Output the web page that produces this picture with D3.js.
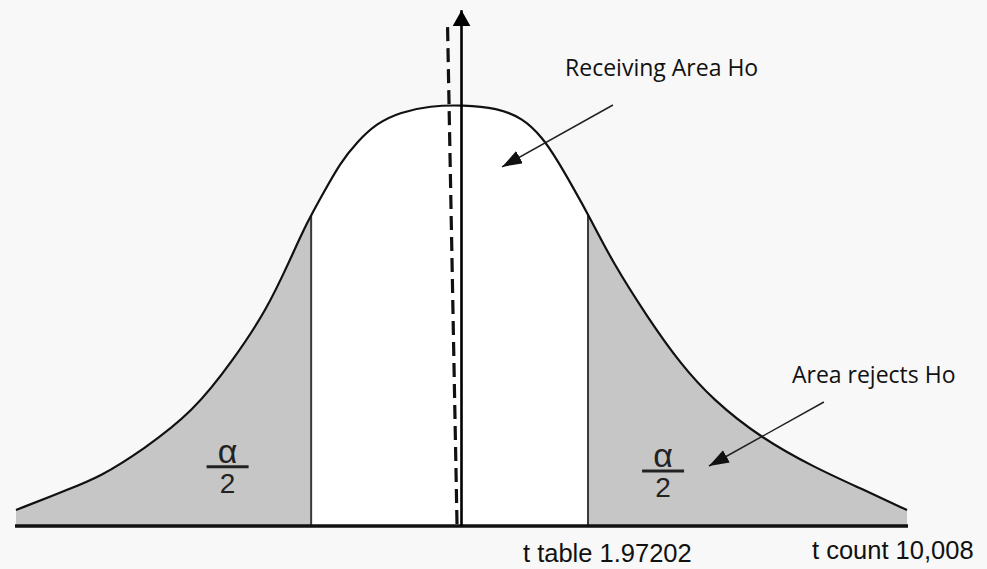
<!DOCTYPE html>
<html lang="en">
<head>
    <meta charset="UTF-8">
    <title>t test acceptance / rejection areas</title>
    <script src="https://cdn.jsdelivr.net/npm/d3@7"></script>
    <style>
        html, body { margin: 0; padding: 0; background: #f8f8f8; }
        svg { display: block; }
    </style>
</head>
<body>
    <div class="container"></div>
    <script>
        // t values along the curve and relative height of the curve (peak = 1)
        const tValues = [-4.00, -3.54, -3.25, -2.86, -2.41, -2.05, -1.75, -1.54, -1.39, -1.24, -1.09, -0.94, -0.76, -0.55, -0.28, 0.01, 0.32, 0.55, 0.73, 0.86, 1.00, 1.15, 1.36, 1.67, 1.96, 2.26, 2.68, 3.16, 3.61, 4.00];
        const density = [0.038, 0.086, 0.116, 0.181, 0.271, 0.394, 0.513, 0.632, 0.720, 0.791, 0.862, 0.912, 0.957, 0.983, 0.998, 1.000, 0.993, 0.969, 0.922, 0.869, 0.805, 0.734, 0.625, 0.496, 0.387, 0.299, 0.211, 0.140, 0.086, 0.038];

        // critical lines (left / right) that bound the rejection areas
        const criticalT = [-1.35, 1.136];

        // dashed line (top / bottom), slightly slanted in the picture
        const dashedT = [-0.125, -0.04];
        const dashedTop = 1.185;
        const axisTop = 1.225;

        // annotation texts and their arrows
        const notes = ["Receiving Area Ho", "Area rejects Ho"];
        const noteT = [0.93, 2.967];
        const noteH = [1.069, 0.340];
        const arrowFrom = [[1.36, 1.0], [3.254, 0.2945]];
        const arrowTo = [[0.364, 0.853], [2.222, 0.1425]];

        // alpha / 2 labels inside the tails
        const alphaT = [-2.10, 1.81];
        const alphaH = [0.150, 0.140];

        // labels under the axis
        const bottomLabels = ["t table 1.97202", "t count 10,008"];
        const bottomT = [0.552, 3.147];
        const bottomH = [-0.085, -0.078];

        const width = 987;
        const height = 569;

        const x = d3.scaleLinear().domain([-4, 4]).range([16, 907]);
        const y = d3.scaleLinear().domain([0, 1]).range([526, 105]);

        const points = tValues.map((t, i) => ({ t: t, h: density[i] }));

        const svg = d3.create("svg")
            .attr("width", width)
            .attr("height", height)
            .attr("viewBox", [0, 0, width, height]);

        const defs = svg.append("defs");
        defs.append("marker")
            .attr("id", "head")
            .attr("viewBox", "0 0 20 14")
            .attr("refX", 20)
            .attr("refY", 7)
            .attr("markerWidth", 20)
            .attr("markerHeight", 14)
            .attr("markerUnits", "userSpaceOnUse")
            .attr("orient", "auto")
            .append("path")
            .attr("d", "M0,0L20,7L0,14Z")
            .attr("fill", "#111");
        defs.append("marker")
            .attr("id", "axisHead")
            .attr("viewBox", "0 0 16 18")
            .attr("refX", 16)
            .attr("refY", 9)
            .attr("markerWidth", 16)
            .attr("markerHeight", 18)
            .attr("markerUnits", "userSpaceOnUse")
            .attr("orient", "auto")
            .append("path")
            .attr("d", "M0,0L16,9L0,18Z")
            .attr("fill", "#000");

        const area = d3.area()
            .x(d => x(d.t))
            .y0(y(0))
            .y1(d => y(d.h))
            .curve(d3.curveBasis);

        const line = d3.line()
            .x(d => x(d.t))
            .y(d => y(d.h))
            .curve(d3.curveBasis);

        // clip to the area under the curve
        defs.append("clipPath").attr("id", "under")
            .append("path").attr("d", area(points));

        // clips for the two tails
        const tails = defs.append("clipPath").attr("id", "tails");
        tails.append("rect")
            .attr("x", x(-4) - 2).attr("y", 0)
            .attr("width", x(criticalT[0]) - x(-4) + 2).attr("height", height);
        tails.append("rect")
            .attr("x", x(criticalT[1])).attr("y", 0)
            .attr("width", x(4) - x(criticalT[1]) + 2).attr("height", height);

        // white middle under the curve, grey tails
        svg.append("path")
            .attr("d", area(points))
            .attr("fill", "#ffffff");
        svg.append("path")
            .attr("d", area(points))
            .attr("fill", "#c6c6c6")
            .attr("clip-path", "url(#tails)");

        // critical lines
        svg.append("g")
            .attr("clip-path", "url(#under)")
            .selectAll("line")
            .data(criticalT)
            .join("line")
                .attr("x1", d => x(d)).attr("x2", d => x(d))
                .attr("y1", y(0)).attr("y2", y(1))
                .attr("stroke", "#3a3a3a")
                .attr("stroke-width", 2);

        // curve
        svg.append("path")
            .attr("d", line(points))
            .attr("fill", "none")
            .attr("stroke", "#111")
            .attr("stroke-width", 2.2);

        // baseline
        svg.append("line")
            .attr("x1", x(-4) - 1).attr("x2", x(4) + 1)
            .attr("y1", y(0)).attr("y2", y(0))
            .attr("stroke", "#111")
            .attr("stroke-width", 3.5);

        // dashed line
        svg.append("line")
            .attr("x1", x(dashedT[0])).attr("y1", y(dashedTop))
            .attr("x2", x(dashedT[1])).attr("y2", y(0))
            .attr("stroke", "#111")
            .attr("stroke-width", 3.2)
            .attr("stroke-dasharray", "14,7");

        // vertical axis with arrow
        svg.append("line")
            .attr("x1", x(0)).attr("x2", x(0))
            .attr("y1", y(0)).attr("y2", y(axisTop))
            .attr("stroke", "#000")
            .attr("stroke-width", 2.6)
            .attr("marker-end", "url(#axisHead)");

        // annotation arrows
        svg.append("g")
            .selectAll("line")
            .data(arrowFrom)
            .join("line")
                .attr("x1", d => x(d[0])).attr("y1", d => y(d[1]))
                .attr("x2", (d, i) => x(arrowTo[i][0])).attr("y2", (d, i) => y(arrowTo[i][1]))
                .attr("stroke", "#222")
                .attr("stroke-width", 1.5)
                .attr("marker-end", "url(#head)");

        // annotation texts
        svg.append("g")
            .attr("font-family", "'Open Sans', 'Noto Sans', sans-serif")
            .attr("font-size", 23)
            .attr("fill", "#111")
            .selectAll("text")
            .data(notes)
            .join("text")
                .attr("x", (d, i) => x(noteT[i]))
                .attr("y", (d, i) => y(noteH[i]))
                .text(d => d);

        // alpha / 2
        const frac = svg.append("g")
            .attr("font-family", "'Liberation Sans', Arial, sans-serif")
            .attr("fill", "#222")
            .attr("text-anchor", "middle")
            .selectAll("g")
            .data(alphaT)
            .join("g")
                .attr("transform", (d, i) => `translate(${x(d)},${y(alphaH[i])})`);
        frac.append("text").attr("font-size", 34).text("α");
        frac.append("line")
            .attr("x1", -21).attr("x2", 21)
            .attr("y1", 4).attr("y2", 4)
            .attr("stroke", "#222")
            .attr("stroke-width", 3);
        frac.append("text").attr("font-size", 28).attr("y", 30).text("2");

        // labels under the axis
        svg.append("g")
            .attr("font-family", "'Liberation Sans', Arial, sans-serif")
            .attr("font-size", 25.5)
            .attr("fill", "#111")
            .selectAll("text")
            .data(bottomLabels)
            .join("text")
                .attr("x", (d, i) => x(bottomT[i]))
                .attr("y", (d, i) => y(bottomH[i]))
                .text(d => d);

        document.querySelector(".container").appendChild(svg.node());
    </script>
</body>
</html>
